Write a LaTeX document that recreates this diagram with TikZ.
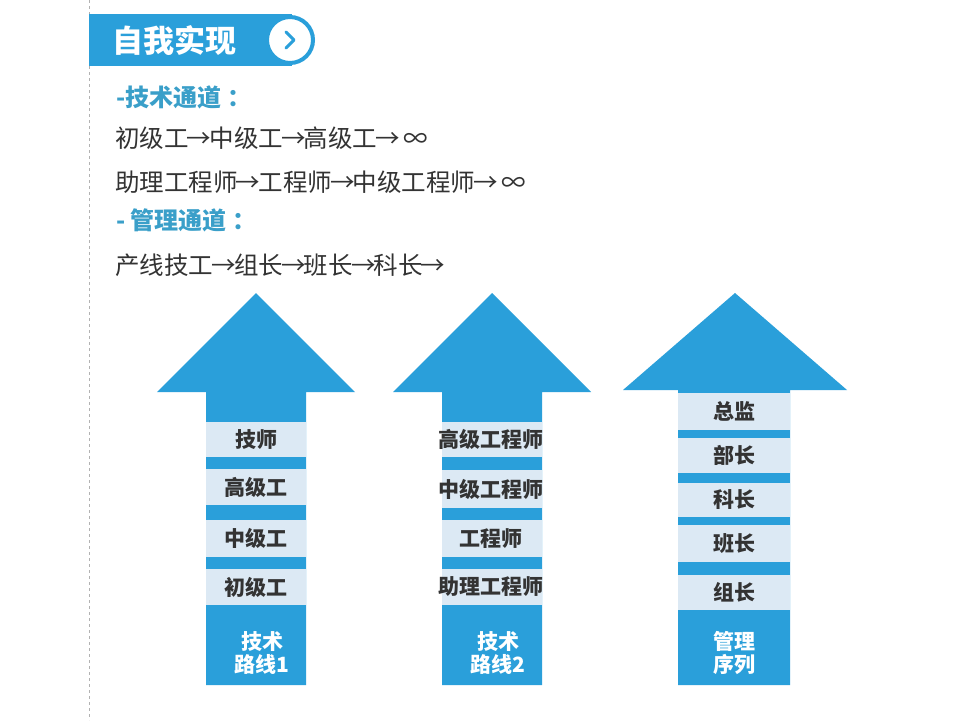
\documentclass[tikz,border=0pt]{standalone}
\usepackage{fontspec}
\setmainfont{Noto Sans CJK SC}
\definecolor{mblue}{HTML}{2A9FDA}
\definecolor{lbox}{HTML}{DCE9F4}
\definecolor{hblue}{HTML}{3A9FC9}
\definecolor{dtext}{HTML}{333333}
\newcommand{\rarr}{\makebox[0.85em][c]{→}}
\begin{document}
\begin{tikzpicture}[x=1pt,y=-1pt,
  body/.style={anchor=west,inner sep=0pt,text=dtext,font=\fontsize{24.5}{28}\selectfont},
  head/.style={anchor=west,inner sep=0pt,text=hblue,font=\bfseries\fontsize{24}{28}\selectfont},
  lvl/.style={draw=none,inner sep=0pt,text=dtext,font=\bfseries\fontsize{21}{24}\selectfont},
  foot/.style={inner sep=0pt,text=white,align=center,font=\bfseries\fontsize{21}{23}\selectfont},
  arrowshape/.style={fill=mblue,draw=none}]
\useasboundingbox (0,0) rectangle (960,720);
\fill[white] (0,0) rectangle (960,720);
% dashed guide line
\draw[gray!60,dashed] (89,0) -- (89,720);
% header bar
\fill[mblue] (89,14) rectangle (292,66);
\node[circle,fill=white,draw=mblue,line width=4pt,minimum size=46pt,inner sep=0pt] (circ) at (290,40) {};
\draw[mblue,line width=3pt,line cap=round,line join=round] ([shift={(-4,-8)}]circ.center) -- ([shift={(4,0)}]circ.center) -- ([shift={(-4,8)}]circ.center);
\node[anchor=west,inner sep=0pt,text=white,font=\bfseries\fontsize{31}{34}\selectfont] (title) at (112,41) {自我实现};
% text lines
\node[head] (h1) at (116,97) {-技术通道\hspace{6pt}：};
\node[body] (l1) at (115,138) {初级工\rarr 中级工\rarr 高级工\rarr\ ∞};
\node[body] (l2) at (115,182) {助理工程师\rarr 工程师\rarr 中级工程师\rarr\ ∞};
\node[head] (h2) at (116,220) {- 管理通道\hspace{6pt}：};
\node[body] (l3) at (115,265) {产线技工\rarr 组长\rarr 班长\rarr 科长\rarr};
% arrow 1
\fill[arrowshape] (206,685) -- (206,392) -- (157,392) -- (256,293) -- (355,392) -- (306,392) -- (306,685) -- cycle;
\foreach \t/\b/\txt/\nm in {422/457/技师/a1, 469/505/高级工/a2, 520/557/中级工/a3, 569/605/初级工/a4}{
  \fill[lbox] (206,\t) rectangle (306,\b);
  \node[lvl] (\nm) at (256,{(\t+\b)/2}) {\txt};
}
\node[foot] (f1) at (262,653) {技术\\路线1};
% arrow 2
\fill[arrowshape] (442,685) -- (442,392) -- (393,392) -- (492,293) -- (591,392) -- (542,392) -- (542,685) -- cycle;
\foreach \t/\b/\txt/\nm in {422/457/高级工程师/b1, 470/508/中级工程师/b2, 520/557/工程师/b3, 569/605/助理工程师/b4}{
  \fill[lbox] (442,\t) rectangle (542,\b);
  \node[lvl] (\nm) at (491,{(\t+\b)/2}) {\txt};
}
\node[foot] (f2) at (498,653) {技术\\路线2};
% arrow 3
\fill[arrowshape] (678,685) -- (678,390) -- (623,390) -- (735,293) -- (847,390) -- (790,390) -- (790,685) -- cycle;
\foreach \t/\b/\txt/\nm in {393/430/总监/c1, 438/473/部长/c2, 483/517/科长/c3, 525/562/班长/c4, 575/610/组长/c5}{
  \fill[lbox] (678,\t) rectangle (790,\b);
  \node[lvl] (\nm) at (734,{(\t+\b)/2}) {\txt};
}
\node[foot] (f3) at (734,653) {管理\\序列};
\end{tikzpicture}
\end{document}
